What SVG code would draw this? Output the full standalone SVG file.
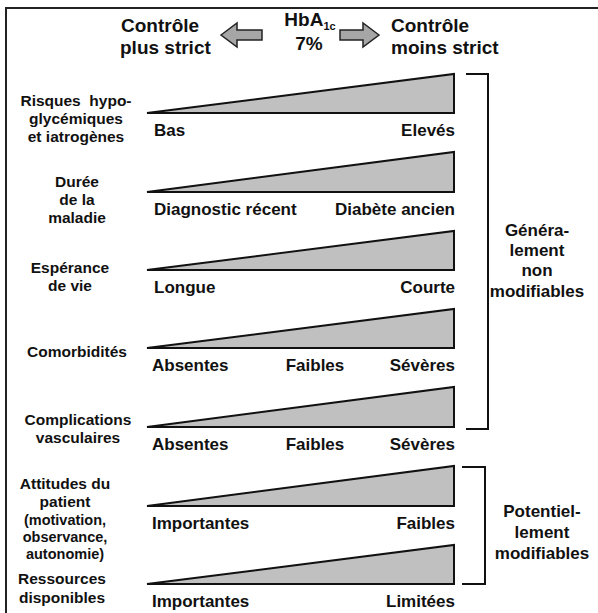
<svg xmlns="http://www.w3.org/2000/svg" width="598" height="613" viewBox="0 0 598 613">
<style>
text{font-family:"Liberation Sans",Arial,sans-serif;font-weight:bold;fill:#111;}
.h{font-size:19px;}
.l{font-size:15.5px;text-anchor:middle;}
.s{font-size:14.5px;text-anchor:middle;}
.a{font-size:17px;}
.e{text-anchor:end;}
.m{text-anchor:middle;}
.g{font-size:17px;text-anchor:middle;}
.tri{fill:#c0c0c0;stroke:#111;stroke-width:2;stroke-linejoin:miter;}
.arr{fill:#a6a6a6;stroke:#222;stroke-width:1.5;}
.br{fill:none;stroke:#111;stroke-width:2;}
</style>
<rect width="598" height="613" fill="#fff"/>
<g id="frame"><path d="M6,613 V8 H598" fill="none" stroke="#222" stroke-width="2"/></g>

<g id="header">
<text class="h" x="121" y="32">Contrôle</text>
<text class="h" x="120" y="54">plus strict</text>
<path class="arr" d="M221,35 L237,23 L237,30 L262,30 L262,40 L237,40 L237,47 Z"/>
<text class="h m" x="310" y="26">HbA<tspan font-size="11" dy="4">1c</tspan></text>
<text class="h m" x="309" y="50">7%</text>
<path class="arr" d="M379,35 L363,23 L363,30 L340,30 L340,40 L363,40 L363,47 Z"/>
<text class="h" x="391" y="32">Contrôle</text>
<text class="h" x="391" y="54">moins strict</text>
</g>

<g id="row1">
<polygon class="tri" points="147,113 454,74 454,113"/>
<text class="l" x="76" y="106">Risques&#160; hypo-</text>
<text class="l" x="76" y="124">glycémiques</text>
<text class="l" x="76" y="142">et iatrogènes</text>
<text class="a" x="154" y="136">Bas</text>
<text class="a e" x="455" y="136">Elevés</text>
</g>

<g id="row2">
<polygon class="tri" points="147,192 454,152 454,192"/>
<text class="l" x="77" y="187">Durée</text>
<text class="l" x="77" y="205">de la</text>
<text class="l" x="77" y="223">maladie</text>
<text class="a" x="154" y="215">Diagnostic récent</text>
<text class="a e" x="455" y="215">Diabète ancien</text>
</g>

<g id="row3">
<polygon class="tri" points="147,270 454,231 454,270"/>
<text class="l" x="70" y="273">Espérance</text>
<text class="l" x="70" y="291">de vie</text>
<text class="a" x="154" y="293">Longue</text>
<text class="a e" x="455" y="293">Courte</text>
</g>

<g id="row4">
<polygon class="tri" points="147,348 454,309 454,348"/>
<text class="l" x="77" y="357">Comorbidités</text>
<text class="a" x="152" y="371">Absentes</text>
<text class="a m" x="315" y="371">Faibles</text>
<text class="a e" x="455" y="371">Sévères</text>
</g>

<g id="row5">
<polygon class="tri" points="147,427 454,387 454,427"/>
<text class="l" x="78" y="425">Complications</text>
<text class="l" x="78" y="443">vasculaires</text>
<text class="a" x="152" y="450">Absentes</text>
<text class="a m" x="315" y="450">Faibles</text>
<text class="a e" x="455" y="450">Sévères</text>
</g>

<g id="row6">
<polygon class="tri" points="147,506 454,466 454,506"/>
<text class="l" x="65" y="489">Attitudes du</text>
<text class="l" x="65" y="507">patient</text>
<text class="s" x="65" y="525">(motivation,</text>
<text class="s" x="65" y="542">observance,</text>
<text class="s" x="65" y="559">autonomie)</text>
<text class="a" x="152" y="529">Importantes</text>
<text class="a e" x="455" y="529">Faibles</text>
</g>

<g id="row7">
<polygon class="tri" points="147,584 454,545 454,584"/>
<text class="l" x="62" y="584">Ressources</text>
<text class="l" x="62" y="603">disponibles</text>
<text class="a" x="152" y="607">Importantes</text>
<text class="a e" x="455" y="607">Limitées</text>
</g>

<g id="connectors">
<path class="br" d="M466,74 H488 V429 H466"/>
<path class="br" d="M462,467 H485 V584 H462"/>
</g>

<g id="group-non-modifiables">
<text class="g" x="537" y="236">Généra-</text>
<text class="g" x="537" y="256">lement</text>
<text class="g" x="537" y="276">non</text>
<text class="g" x="537" y="297">modifiables</text>
</g>

<g id="group-modifiables">
<text class="g" x="542" y="517">Potentiel-</text>
<text class="g" x="542" y="538">lement</text>
<text class="g" x="542" y="559">modifiables</text>
</g>
</svg>
